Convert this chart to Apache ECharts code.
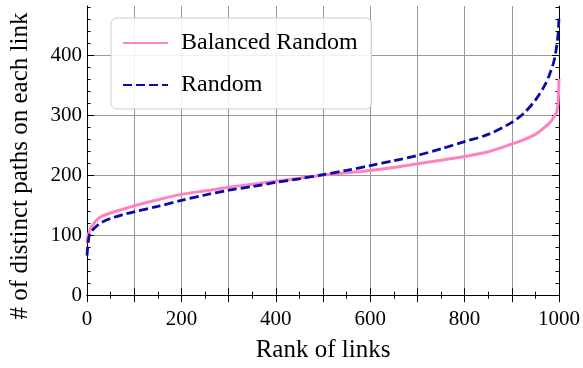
<!DOCTYPE html>
<html>
<head>
<meta charset="utf-8">
<script src="https://cdn.jsdelivr.net/npm/echarts@6/dist/echarts.min.js"></script>
<style>
  html, body { margin: 0; padding: 0; background: #fff; }
  #chart { width: 583px; height: 368px; }
</style>
</head>
<body>
<div id="chart"></div>
<script>
// Rank of each sampled link (sorted by load)
const ranks = [0, 2, 5, 10, 20, 30, 50, 75, 100, 150, 200, 250, 300, 350, 400, 450, 500,
  550, 600, 650, 700, 750, 800, 850, 900, 925, 950, 970, 980, 990, 995, 998, 1000];

// Number of distinct paths crossing each link
const balancedRandom = [87, 98, 106, 114, 125, 131, 137, 143, 149, 159, 168, 174, 180, 185, 190, 195, 200,
  204, 208, 213, 219, 225, 231, 239, 252, 259, 268, 280, 287, 298, 305, 320, 361];
const randomPaths = [66, 85, 100, 107, 115, 121, 128, 134, 139, 148, 158, 167, 175, 181, 188, 194, 201,
  208, 216, 224, 233, 244, 256, 268, 288, 303, 325, 350, 368, 392, 415, 435, 464];

// Axis ticks
const yMajorTicks = [0, 100, 200, 300, 400];
const yMinorTicks = [];
for (let v = 20; v <= 480; v += 20) if (v % 100 !== 0) yMinorTicks.push(v);

const FONT = 'Liberation Serif';
const BLACK = '#000';

const pair = (xs, ys) => xs.map((x, i) => [x, ys[i]]);

const yBase = { type: 'value', min: -8, max: 482, axisLine: { show: true, lineStyle: { color: BLACK, width: 1 } } };
const yMajor = (pos, labels) => Object.assign({}, yBase, {
  position: pos,
  axisTick: { show: true, inside: true, length: 7, customValues: yMajorTicks, lineStyle: { color: BLACK } },
  axisLabel: labels ? { show: true, customValues: yMajorTicks, fontFamily: FONT, fontSize: 21, color: BLACK, margin: 5 } : { show: false },
  splitLine: { show: labels, lineStyle: { color: '#999', width: 1 } }
});
const yMinor = (pos) => Object.assign({}, yBase, {
  position: pos,
  axisLine: { show: false },
  axisTick: { show: true, inside: true, length: 3.5, customValues: yMinorTicks, lineStyle: { color: BLACK } },
  axisLabel: { show: false },
  splitLine: { show: false }
});

const xBase = (pos, labels) => ({
  type: 'value', position: pos, min: 0, max: 1000, interval: 100,
  axisLine: { show: true, lineStyle: { color: BLACK, width: 1 } },
  axisTick: { show: true, inside: true, length: 7, lineStyle: { color: BLACK } },
  minorTick: { show: true, splitNumber: 2, length: 3.5, lineStyle: { color: BLACK } },
  axisLabel: labels ? {
    show: true, fontFamily: FONT, fontSize: 21, color: BLACK, margin: 9,
    formatter: v => (v % 200 === 0 ? String(v) : '')
  } : { show: false },
  splitLine: { show: labels, lineStyle: { color: '#999', width: 1 } }
});

const chart = echarts.init(document.getElementById('chart'), null, { renderer: 'canvas' });
chart.setOption({
  animation: false,
  backgroundColor: '#fff',
  grid: { left: 85, right: 22, top: 6, bottom: 68, containLabel: false },
  legend: {
    orient: 'vertical',
    left: 111, top: 18,
    padding: [13, 14, 12, 11],
    itemGap: 18,
    itemWidth: 45,
    itemHeight: 14,
    itemStyle: { opacity: 0 },
    backgroundColor: 'rgba(255,255,255,0.85)',
    borderColor: '#ccc',
    borderWidth: 1,
    borderRadius: 6,
    textStyle: { fontFamily: FONT, fontSize: 24, color: BLACK, padding: [0, 0, 0, 8] },
    data: ['Balanced Random', 'Random']
  },
  xAxis: [
    Object.assign(xBase('bottom', true), {
      name: 'Rank of links', nameLocation: 'middle', nameGap: 38,
      nameTextStyle: { fontFamily: FONT, fontSize: 25, color: BLACK }
    }),
    xBase('top', false)
  ],
  yAxis: [
    Object.assign(yMajor('left', true), {
      name: '# of distinct paths on each link', nameLocation: 'middle', nameGap: 54,
      nameTextStyle: { fontFamily: FONT, fontSize: 25, color: BLACK, padding: [0, 26, 0, 0] }
    }),
    yMinor('left'),
    yMajor('right', false),
    yMinor('right')
  ],
  series: [
    {
      name: 'Balanced Random', type: 'line', xAxisIndex: 0, yAxisIndex: 0,
      data: pair(ranks, balancedRandom), smooth: 0.3, symbol: 'none',
      lineStyle: { color: '#ff82c0', width: 3 }, itemStyle: { color: '#ff82c0' }, z: 3
    },
    {
      name: 'Random', type: 'line', xAxisIndex: 0, yAxisIndex: 0,
      data: pair(ranks, randomPaths), smooth: 0.3, symbol: 'none',
      lineStyle: { color: '#0a0aa8', width: 2.8, type: [9, 4] }, itemStyle: { color: '#0a0aa8' }, z: 4
    }
  ]
});
</script>
</body>
</html>
